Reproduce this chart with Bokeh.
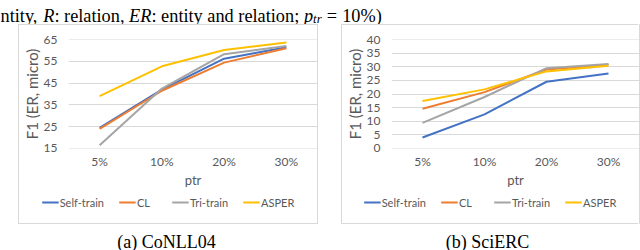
from bokeh.plotting import figure
from bokeh.models import FactorRange, Range1d, FixedTicker, Legend, LegendItem, Label, Spacer
from bokeh.layouts import column, row
from bokeh.embed import file_html
from bokeh.resources import INLINE

categories = ["5%", "10%", "20%", "30%"]
series_names = ["Self-train", "CL", "Tri-train", "ASPER"]
series_colors = ["#4472C4", "#ED7D31", "#A5A5A5", "#FFC000"]

conll_self = [24.5, 42.0, 56.2, 61.5]
conll_cl = [24.0, 41.5, 54.4, 61.0]
conll_tri = [16.5, 42.5, 58.3, 62.0]
conll_asper = [39.0, 52.7, 60.2, 63.6]
conll_ticks = [15, 25, 35, 45, 55, 65]

scierc_self = [4.0, 12.5, 24.5, 27.5]
scierc_cl = [14.6, 20.7, 29.0, 30.7]
scierc_tri = [9.4, 18.9, 29.5, 31.0]
scierc_asper = [17.4, 21.7, 28.3, 30.4]
scierc_ticks = [0, 5, 10, 15, 20, 25, 30, 35, 40]

y_title = "F1 (ER, micro)"
x_title = "ptr"
captions = ["(a) CoNLL04", "(b) SciERC"]

SANS = "Lato"
SERIF = "Liberation Serif"
GREY_TXT = "#595959"
BOX = "#d9d9d9"


def line_spacer(w, h):
    return Spacer(width=w, height=h, styles={"background-color": BOX})


def make_box(inner_w, left_border, series, ticks, ystart, yend):
    p = figure(frame_width=inner_w - left_border, frame_height=109, title=None,
               x_range=FactorRange(*categories, range_padding=0),
               y_range=Range1d(ystart, yend),
               output_backend="svg", toolbar_location=None,
               min_border_left=left_border, min_border_right=0,
               min_border_top=14, min_border_bottom=44,
               background_fill_color="white", border_fill_color="white",
               outline_line_color=None)
    ticker = FixedTicker(ticks=ticks)
    p.yaxis.ticker = ticker
    p.ygrid.ticker = ticker
    p.ygrid.grid_line_color = BOX
    p.xgrid.visible = False
    for ax in (p.xaxis, p.yaxis):
        ax.axis_line_color = None
        ax.major_tick_line_color = None
        ax.minor_tick_line_color = None
        ax.major_tick_out = 0
        ax.major_tick_in = 0
        ax.minor_tick_out = 0
        ax.major_label_text_font = SANS
        ax.major_label_text_font_size = "12px"
        ax.major_label_text_color = GREY_TXT
        ax.axis_label_text_font = SANS
        ax.axis_label_text_font_style = "normal"
        ax.axis_label_text_color = GREY_TXT
    p.yaxis.axis_label = y_title
    p.yaxis.axis_label_text_font_size = "15px"
    p.yaxis.major_label_standoff = 11
    p.yaxis.axis_label_standoff = 0
    p.xaxis.axis_label = x_title
    p.xaxis.axis_label_text_font_size = "13px"
    p.xaxis.major_label_standoff = 5
    p.xaxis.axis_label_standoff = 0

    for color, vals in zip(series_colors, series):
        p.line(categories, vals, line_color=color, line_width=2)

    # legend strip (bottom part of the chart box); its series sit outside its
    # visible y window, so only the legend entries show
    lf = figure(width=inner_w, height=20, title=None,
                x_range=FactorRange(*categories, range_padding=0),
                y_range=Range1d(yend + 100, yend + 101),
                output_backend="svg", toolbar_location=None, min_border=0,
                x_axis_type=None, y_axis_type=None, outline_line_color=None,
                background_fill_color="white", border_fill_color="white")
    lf.xgrid.visible = False
    lf.ygrid.visible = False
    items = []
    for name, color, vals in zip(series_names, series_colors, series):
        r = lf.line(categories, vals, line_color=color, line_width=2)
        items.append(LegendItem(label=name, renderers=[r]))
    legend = Legend(items=items, orientation="horizontal", location="center",
                    label_text_font=SANS, label_text_font_size="11px",
                    label_text_color=GREY_TXT, glyph_width=17, glyph_height=14,
                    label_height=14, label_standoff=1, spacing=15, padding=0, margin=0,
                    border_line_color=None, background_fill_alpha=0)
    lf.add_layout(legend, "center")

    inner = column(line_spacer(inner_w, 1), p, row(lf), Spacer(width=inner_w, height=11),
                   line_spacer(inner_w, 1))
    return row(line_spacer(1, 200), inner, line_spacer(1, 200))


box_a = make_box(298, 49, [conll_self, conll_cl, conll_tri, conll_asper],
                 conll_ticks, 14.98, 65.02)
box_b = make_box(296, 48, [scierc_self, scierc_cl, scierc_tri, scierc_asper],
                 scierc_ticks, -0.02, 40.02)

# top caption line (continuation of the paper text)
top = figure(width=640, height=24, title=None, x_range=Range1d(0, 640), y_range=Range1d(24, 0),
             output_backend="svg", toolbar_location=None, min_border=0,
             x_axis_type=None, y_axis_type=None, outline_line_color=None,
             background_fill_color="white", border_fill_color="white")
em = 18.3
runs = [
    ("ntity, ", "normal", 1.0, 15, 2.334),
    ("R", "italic", 1.0, 15, 0.611),
    (": relation, ", "normal", 1.0, 15, 4.083),
    ("ER", "italic", 1.0, 15, 1.222),
    (": entity and relation; ", "normal", 1.0, 15, 8.333),
    ("p", "italic", 1.0, 15, 0.5),
    ("tr", "italic", 0.7, 18, 0.667 * 0.7),
    ("=", "normal", 1.0, 15, 1.12),
    ("10%)", "normal", 1.0, 15, 2.166),
]
xpos = 0.0
for txt, style, rel, base, w in runs:
    xx = xpos + (0.278 * em if txt == "=" else 0)
    top.add_layout(Label(x=xx, y=base, text=txt, text_font=SERIF,
                         text_font_size=f"{em * rel:.1f}px",
                         text_font_style=style, text_baseline="alphabetic", text_color="black"))
    xpos += w * em

cap = figure(width=640, height=26, title=None, x_range=Range1d(0, 640), y_range=Range1d(26, 0),
             output_backend="svg", toolbar_location=None, min_border=0,
             x_axis_type=None, y_axis_type=None, outline_line_color=None,
             background_fill_color="white", border_fill_color="white")
for cx, txt in zip([166, 487], captions):
    cap.add_layout(Label(x=cx, y=17, text=txt, text_font=SERIF, text_font_size="18px",
                         text_align="center", text_baseline="alphabetic", text_color="black"))

charts = row(Spacer(width=18, height=200), box_a, Spacer(width=23, height=200),
             box_b, Spacer(width=1, height=200))
p = column(top, charts, cap)

open("out.html", "w").write(file_html(p, INLINE))
